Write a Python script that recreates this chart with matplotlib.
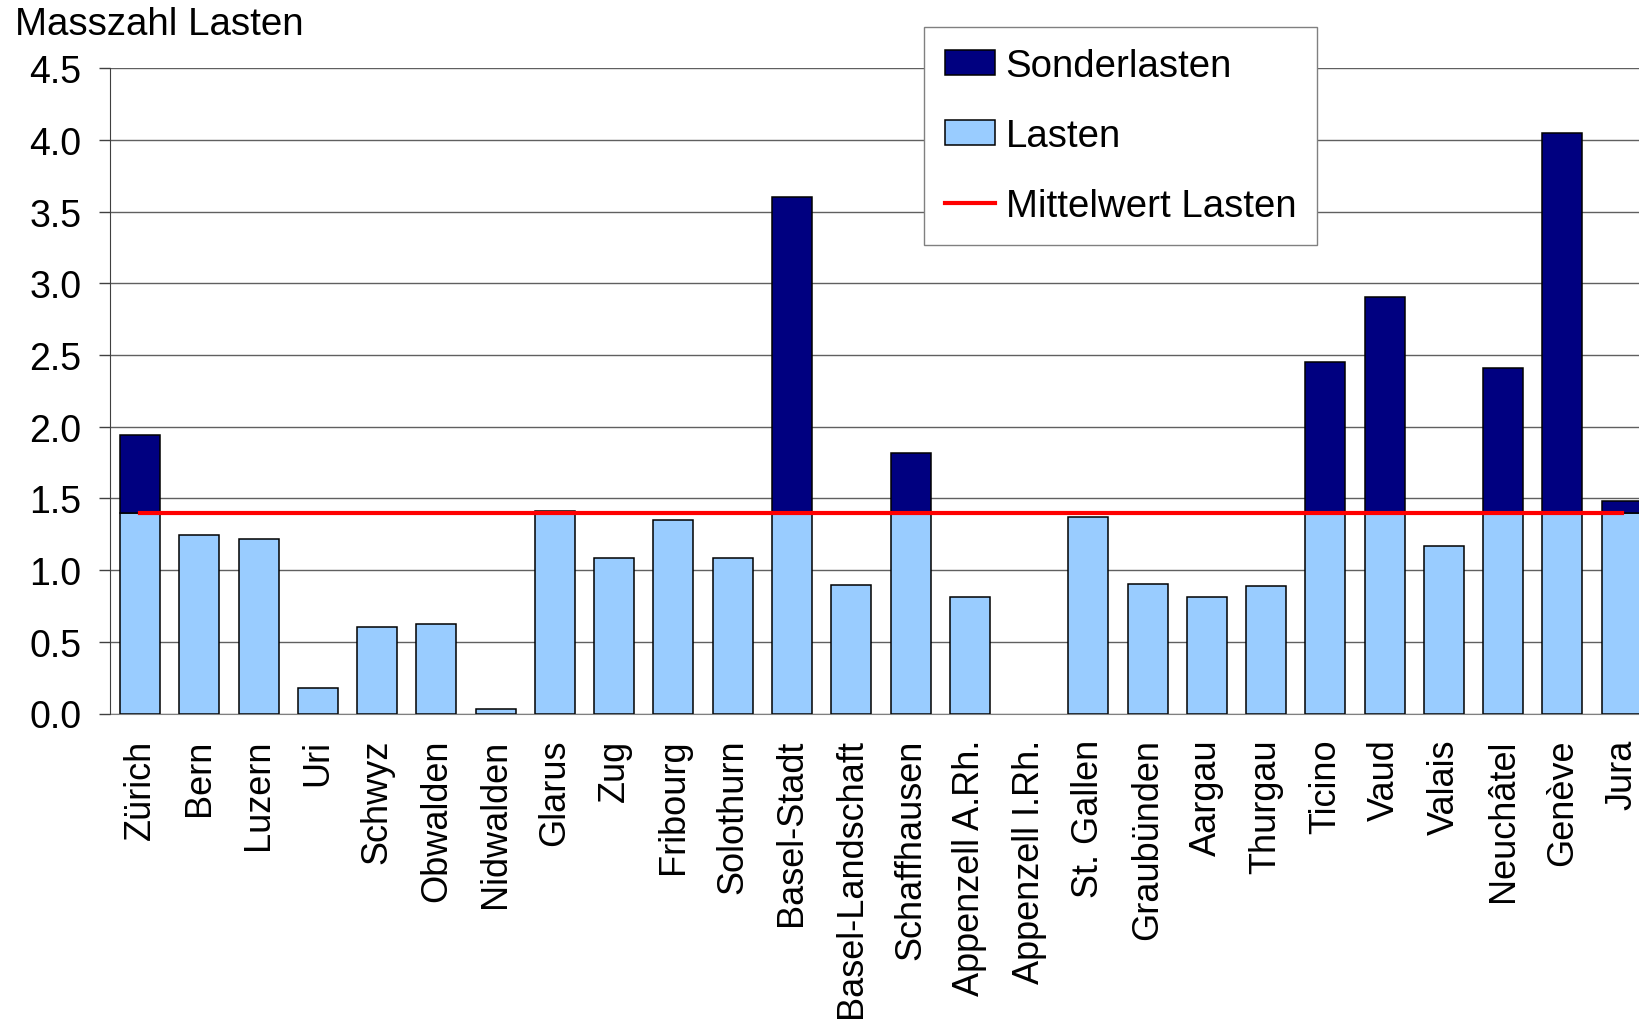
import matplotlib
matplotlib.use('Agg')
import matplotlib.pyplot as plt
import numpy as np
from matplotlib.patches import Patch
from matplotlib.lines import Line2D

plt.rcParams['font.family'] = ['Liberation Sans', 'DejaVu Sans']

# Kantone
kantone = ['Zürich', 'Bern', 'Luzern', 'Uri', 'Schwyz', 'Obwalden', 'Nidwalden',
           'Glarus', 'Zug', 'Fribourg', 'Solothurn', 'Basel-Stadt', 'Basel-Landschaft',
           'Schaffhausen', 'Appenzell A.Rh.', 'Appenzell I.Rh.', 'St. Gallen',
           'Graubünden', 'Aargau', 'Thurgau', 'Ticino', 'Vaud', 'Valais', 'Neuchâtel',
           'Genève', 'Jura']

lasten = [1.40, 1.245, 1.22, 0.18, 0.60, 0.625, 0.03,
          1.41, 1.085, 1.35, 1.085, 1.40, 0.895,
          1.40, 0.81, 0.0, 1.37,
          0.905, 0.815, 0.89, 1.40, 1.40, 1.165, 1.40,
          1.40, 1.40]

sonderlasten = [0.54, 0.0, 0.0, 0.0, 0.0, 0.0, 0.0,
                0.0, 0.0, 0.0, 0.0, 2.205, 0.0,
                0.42, 0.0, 0.0, 0.0,
                0.0, 0.0, 0.0, 1.055, 1.505, 0.0, 1.01,
                2.65, 0.085]

mittelwert = 1.40

x = np.arange(len(kantone))
la = np.array(lasten)
so = np.array(sonderlasten)
width = 0.675

fig = plt.figure(figsize=(16.39, 10.20), dpi=100)
ax = fig.add_axes([110.5 / 1639, 305.5 / 1020, 1528.5 / 1639, 645.2 / 1020])

# nur Balken mit Wert > 0 zeichnen (sonst bleibt ein Strich stehen)
m1 = la > 0
m2 = so > 0
ax.bar(x[m1], la[m1], width, color='#99CCFF', edgecolor='black', linewidth=1.1, zorder=2)
ax.bar(x[m2], so[m2], width, bottom=la[m2], color='#000080', edgecolor='black',
       linewidth=1.1, zorder=2)
ax.plot([x[0], x[-1]], [mittelwert, mittelwert], color='#FF0000', linewidth=3, zorder=3)

ax.set_xlim(-0.5, -0.5 + 1528.5 / 59.26)
ax.set_ylim(0, 4.5)
ticks = np.arange(0, 4.51, 0.5)
ax.set_yticks(ticks)
ax.set_yticklabels([f'{v:.1f}' for v in ticks])
ax.yaxis.grid(True, color='#606060', linewidth=1.0, zorder=0)
ax.set_axisbelow(True)

ax.set_xticks(x)
ax.set_xticklabels(kantone, rotation=90, va='top', ha='center')
ax.tick_params(axis='x', length=0, pad=18, labelsize=26)
ax.tick_params(axis='y', length=8, width=1, color='#404040', pad=13,
               labelsize=27, direction='out')

for s in ['top', 'right']:
    ax.spines[s].set_visible(False)
ax.spines['left'].set_color('#404040')
ax.spines['bottom'].set_color('#808080')

fig.text(15 / 1639, 1 - 35 / 1020, 'Masszahl Lasten', fontsize=27.7, va='baseline', ha='left')

handles = [Patch(facecolor='#000080', edgecolor='black', linewidth=1.1),
           Patch(facecolor='#99CCFF', edgecolor='black', linewidth=1.1),
           Line2D([0], [0], color='#FF0000', linewidth=3)]
leg = fig.legend(handles, ['Sonderlasten', 'Lasten', 'Mittelwert Lasten'],
                 loc='upper left', bbox_to_anchor=(924 / 1639, 1 - 28 / 1020),
                 fontsize=27.6, frameon=True, fancybox=False, framealpha=1,
                 edgecolor='#808080', handlelength=1.3, handleheight=0.62,
                 handletextpad=0.28, labelspacing=0.88, borderpad=0.55,
                 borderaxespad=0)
leg.get_frame().set_linewidth(1.0)

plt.savefig('out.png', dpi=100)
